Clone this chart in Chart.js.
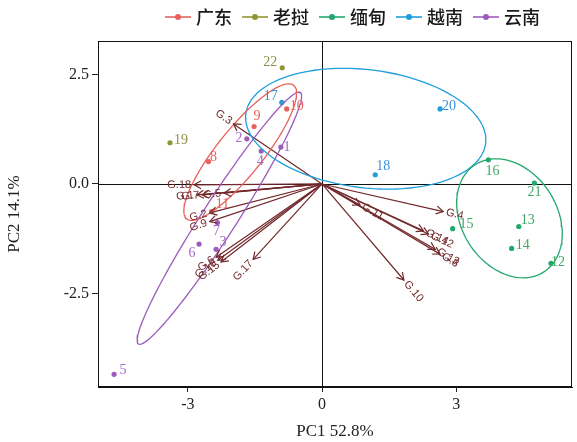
<!DOCTYPE html>
<html><head><meta charset="utf-8">
<script src="https://cdn.jsdelivr.net/npm/chart.js@4"></script>
<style>html,body{margin:0;padding:0;background:#fff}#wrap{width:577px;height:442px}</style>
</head><body><div id="wrap"><canvas id="c" width="577" height="442"></canvas></div>
<script>
// ---- data ----
const sampleIds = [1,2,3,4,5,6,7,8,9,10,11,12,13,14,15,16,17,18,19,20,21,22];
const pc1 = [-0.92,-1.68,-2.37,-1.36,-4.65,-2.75,-2.34,-2.54,-1.52,-0.79,-2.47,5.12,4.40,4.24,2.92,3.72,-0.90,1.19,-3.40,2.64,4.75,-0.89];
const pc2 = [0.84,1.03,-1.49,0.75,-4.34,-1.37,-0.88,0.51,1.31,1.71,-0.63,-1.81,-0.97,-1.47,-1.02,0.55,1.86,0.21,0.94,1.71,0.02,2.65];
const sampleGroup = ['云南','云南','云南','云南','云南','云南','云南','广东','广东','广东','广东','缅甸','缅甸','缅甸','缅甸','缅甸','越南','越南','老挝','越南','缅甸','老挝'];
const groups = ['广东','老挝','缅甸','越南','云南'];
const loadingNames = ['G.1','G.7','G.5','G.18','G.3','G.2','G.9','G.6','G.16','G.15','G.17','G.4','G.11','G.14','G.12','G.13','G.8','G.10'];
const loadingPC1 = [-2.80,-2.68,-2.19,-2.86,-1.98,-2.51,-2.51,-2.37,-2.33,-2.26,-1.54,2.71,0.85,2.27,2.38,2.53,2.64,1.83];
const loadingPC2 = [-0.25,-0.25,-0.21,-0.02,1.37,-0.66,-0.86,-1.67,-1.74,-1.78,-1.72,-0.63,-0.48,-1.07,-1.14,-1.49,-1.60,-2.19];
const xTicks = [-3,0,3];
const yTicks = [-2.5,0,2.5];
const xTitle = 'PC1 52.8%';
const yTitle = 'PC2 14.1%';

// ---- styles ----
const groupColor = {'广东':'#e8615c','老挝':'#8f9632','缅甸':'#23a86c','越南':'#1f9fdc','云南':'#9d5cbd'};
const labelColor = {'广东':'#e8615c','老挝':'#8c8f45','缅甸':'#3ea863','越南':'#3a8fd8','云南':'#a46ac4'};
const arrowColor = '#72282a';
// label offsets (pixels) for sample number labels
const labelOffset = {1:[6,0],2:[-8,0],3:[7,-7],4:[-1,10],5:[9,-4],6:[-7,9],7:[-1,9],8:[5,-4],9:[3,-10],10:[10,-3],11:[11,-7],12:[7,-1],13:[9,-6],14:[11,-3],15:[14,-4],16:[4,11],17:[-11,-6],18:[8,-8],19:[11,-2],20:[9,-3],21:[0,9],22:[-12,-5]};

// ellipse (ggbiplot style, prob 0.68)
function ellipsePts(xs, ys){
  const n = xs.length;
  const mx = xs.reduce((a,b)=>a+b,0)/n, my = ys.reduce((a,b)=>a+b,0)/n;
  let a=0,b=0,c=0;
  for(let i=0;i<n;i++){a+=(xs[i]-mx)**2;b+=(xs[i]-mx)*(ys[i]-my);c+=(ys[i]-my)**2;}
  a/=n-1;b/=n-1;c/=n-1;
  const r11=Math.sqrt(a), r12=b/r11, r22=Math.sqrt(Math.max(c-r12*r12,0));
  const ed=Math.sqrt(-2*Math.log(1-0.68));
  const out=[];
  for(let k=0;k<=100;k++){
    const t=-Math.PI+2*Math.PI*k/100;
    const cs=Math.cos(t), sn=Math.sin(t);
    out.push({x:ed*cs*r11+mx, y:ed*(cs*r12+sn*r22)+my});
  }
  return out;
}

const datasets=[];
// ellipses
groups.forEach(g=>{
  const idx=sampleIds.map((_,i)=>i).filter(i=>sampleGroup[i]===g);
  if(idx.length<3) return;
  datasets.push({type:'scatter',label:'ell-'+g,data:ellipsePts(idx.map(i=>pc1[i]),idx.map(i=>pc2[i])),
    showLine:true,borderColor:groupColor[g],borderWidth:1.3,pointRadius:0,fill:false,tension:0});
});
// arrows
loadingNames.forEach((nm,i)=>{
  datasets.push({type:'scatter',label:'arr-'+nm,data:[{x:0,y:0},{x:loadingPC1[i],y:loadingPC2[i]}],
    showLine:true,borderColor:arrowColor,borderWidth:1.2,pointRadius:0});
});
// points
groups.forEach(g=>{
  const idx=sampleIds.map((_,i)=>i).filter(i=>sampleGroup[i]===g);
  datasets.push({type:'scatter',label:g,data:idx.map(i=>({x:pc1[i],y:pc2[i],id:sampleIds[i]})),
    backgroundColor:groupColor[g],borderColor:groupColor[g],pointRadius:2.6,pointHoverRadius:2.6,borderWidth:0});
});

const deco={
  id:'deco',
  beforeDatasetsDraw(chart){
    const {ctx,chartArea:ca,scales:{x,y}}=chart;
    ctx.save();
    ctx.strokeStyle='#111';ctx.lineWidth=1;
    const x0=Math.round(x.getPixelForValue(0))+0.5, y0=Math.round(y.getPixelForValue(0))+0.5;
    ctx.beginPath();ctx.moveTo(x0,ca.top);ctx.lineTo(x0,ca.bottom);ctx.moveTo(ca.left,y0);ctx.lineTo(ca.right,y0);ctx.stroke();
    ctx.restore();
  },
  afterDatasetsDraw(chart){
    const {ctx,chartArea:ca,scales:{x,y}}=chart;
    ctx.save();
    // arrowheads & loading labels
    ctx.strokeStyle=arrowColor;ctx.fillStyle=arrowColor;ctx.lineWidth=1.2;
    const ox=x.getPixelForValue(0), oy=y.getPixelForValue(0);
    loadingNames.forEach((nm,i)=>{
      const tx=x.getPixelForValue(loadingPC1[i]), ty=y.getPixelForValue(loadingPC2[i]);
      const ang=Math.atan2(ty-oy,tx-ox);
      const L=8, spread=Math.PI/6;
      ctx.beginPath();
      ctx.moveTo(tx-L*Math.cos(ang-spread),ty-L*Math.sin(ang-spread));
      ctx.lineTo(tx,ty);
      ctx.lineTo(tx-L*Math.cos(ang+spread),ty-L*Math.sin(ang+spread));
      ctx.stroke();
      const right=loadingPC1[i]>=0;
      const rot=Math.atan((ty-oy)/(tx-ox));
      ctx.save();
      ctx.translate(tx+3*Math.cos(ang),ty+3*Math.sin(ang));
      ctx.rotate(rot);
      ctx.font='11px "Liberation Sans", Arial, sans-serif';
      ctx.textAlign=right?'left':'right';ctx.textBaseline='middle';
      ctx.fillText(nm,0,0);
      ctx.restore();
    });
    // sample labels
    ctx.font='14px "Liberation Serif", "Times New Roman", serif';
    ctx.textAlign='center';ctx.textBaseline='middle';
    sampleIds.forEach((id,i)=>{
      const px=x.getPixelForValue(pc1[i]), py=y.getPixelForValue(pc2[i]);
      const o=labelOffset[id]||[8,-4];
      ctx.fillStyle=labelColor[sampleGroup[i]];
      ctx.fillText(String(id),px+o[0],py+o[1]);
    });
    // panel border
    ctx.strokeStyle='#111';ctx.lineWidth=1;
    ctx.strokeRect(Math.round(ca.left)+0.5,Math.round(ca.top)+0.5,Math.round(ca.right-ca.left)-1,Math.round(ca.bottom-ca.top)-1);
    // legend
    ctx.font='500 18px "Noto Sans CJK SC", sans-serif';
    ctx.textAlign='left';ctx.textBaseline='middle';
    let lx=165; const ly=17;
    groups.forEach(g=>{
      ctx.strokeStyle=groupColor[g];ctx.fillStyle=groupColor[g];ctx.lineWidth=1.6;
      ctx.beginPath();ctx.moveTo(lx,ly);ctx.lineTo(lx+26,ly);ctx.stroke();
      ctx.beginPath();ctx.arc(lx+13,ly,3,0,Math.PI*2);ctx.fill();
      ctx.fillStyle='#1a1a1a';
      ctx.fillText(g,lx+31,ly);
      lx+=31+ctx.measureText(g).width+10;
    });
    ctx.restore();
  }
};

new Chart(document.getElementById('c'),{
  data:{datasets},
  plugins:[deco],
  options:{
    responsive:false,animation:false,
    layout:{padding:{left:0,top:41,right:5,bottom:0}},
    plugins:{legend:{display:false},tooltip:{enabled:false}},
    scales:{
      x:{type:'linear',min:-5.01,max:5.59,
        afterBuildTicks(s){s.ticks=xTicks.map(v=>({value:v}));},
        afterFit(s){s.height=55;},
        ticks:{callback:v=>String(v),color:'#222',font:{family:'"Liberation Serif", serif',size:16},padding:3,maxRotation:0},
        grid:{display:true,drawOnChartArea:false,drawTicks:true,tickLength:5,color:'#222'},
        border:{display:true,color:'#111'},
        title:{display:true,text:xTitle,color:'#222',font:{family:'"Liberation Serif", serif',size:17},padding:{top:0,bottom:0}}
      },
      y:{type:'linear',min:-4.63,max:3.26,
        afterBuildTicks(s){s.ticks=yTicks.map(v=>({value:v}));},
        afterFit(s){s.width=98;},
        ticks:{callback:v=>Number(v).toFixed(1),color:'#222',font:{family:'"Liberation Serif", serif',size:16},padding:3},
        grid:{display:true,drawOnChartArea:false,drawTicks:true,tickLength:6,color:'#222'},
        border:{display:true,color:'#111'},
        title:{display:true,text:yTitle,color:'#222',font:{family:'"Liberation Serif", serif',size:17},padding:{top:4,bottom:0}}
      }
    }
  }
});
</script></body></html>
